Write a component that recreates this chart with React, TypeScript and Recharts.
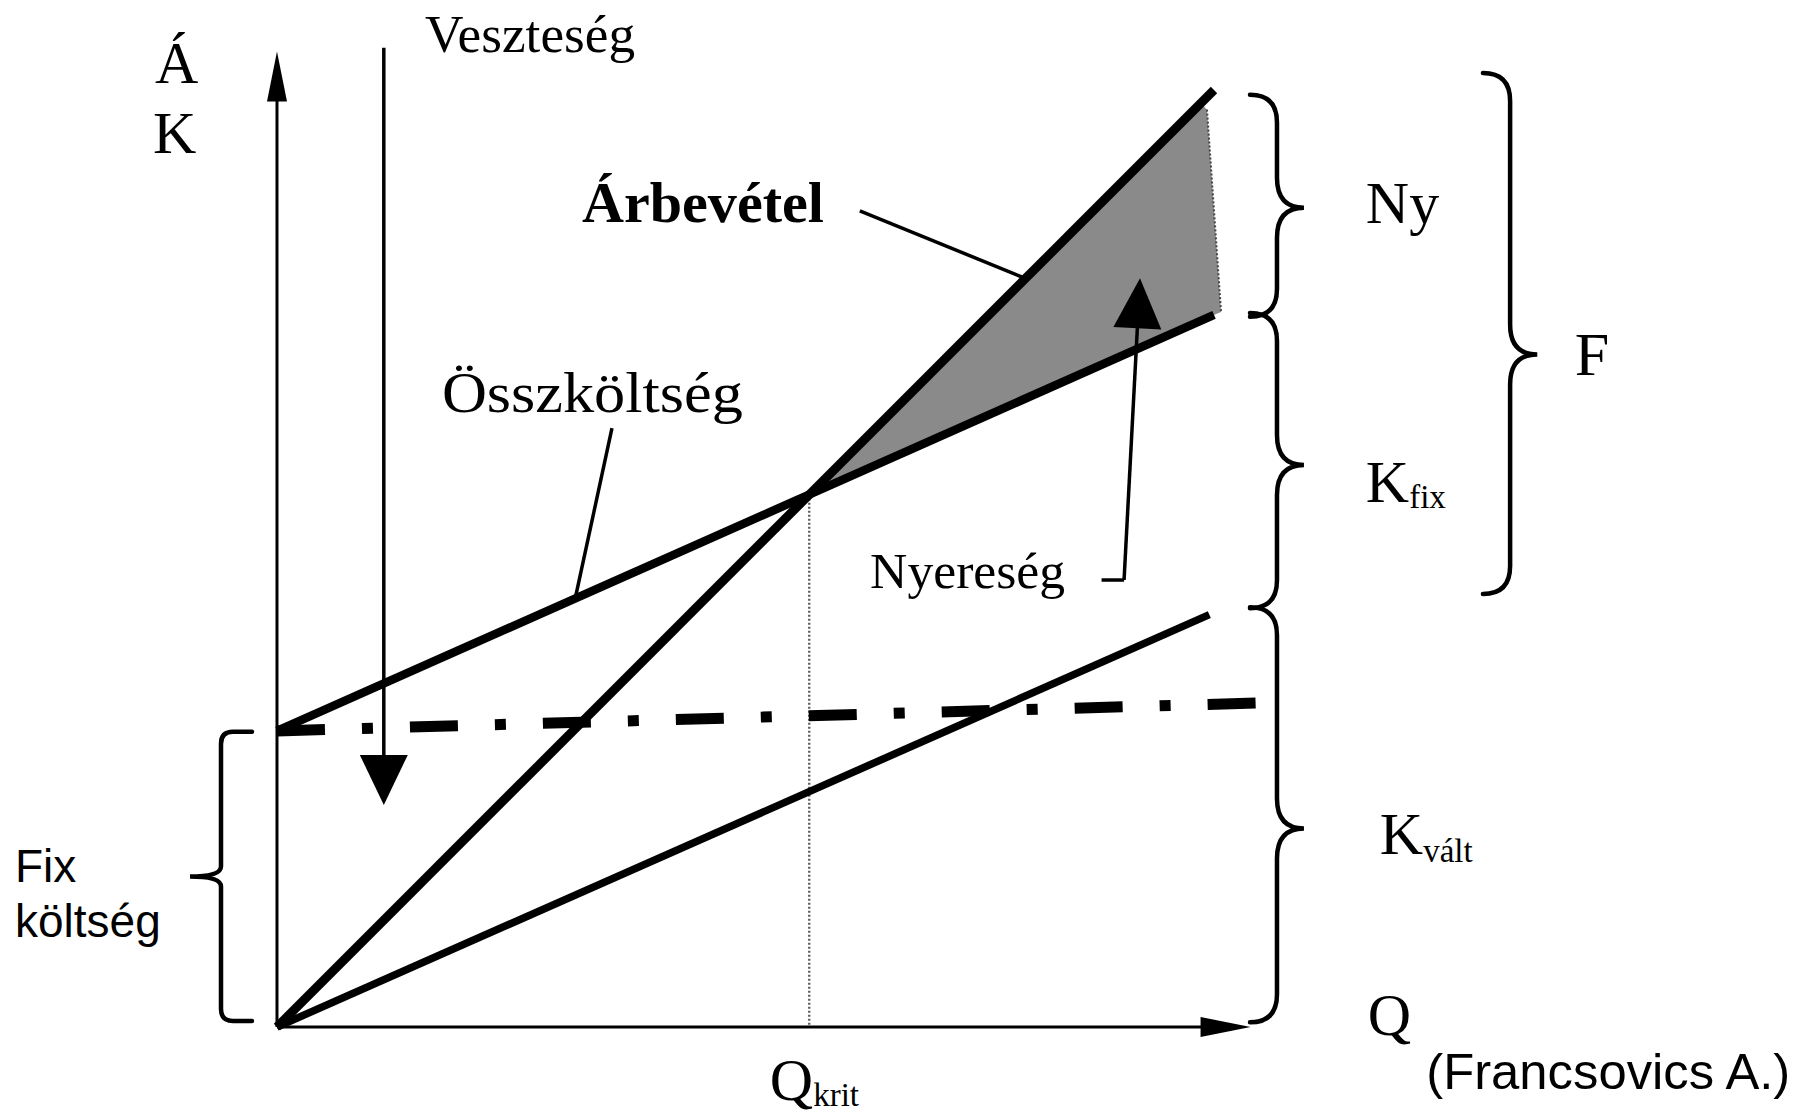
import React from 'react';
import {
  ComposedChart,
  Line,
  Area,
  XAxis,
  YAxis,
  ReferenceLine,
  ReferenceDot,
  ReferenceArea,
} from 'recharts';

// ---------- chart data (units: Q on x, Ft on y) ----------
const REVENUE_Q = [0, 100];
const REVENUE = [0, 100];

const TOTAL_COST_Q = [0, 100];
const TOTAL_COST = [31.6, 76.0];

const FIXED_COST_Q = [0, 105.5];
const FIXED_COST = [31.6, 34.6];

const VARIABLE_COST_Q = [0, 99.5];
const VARIABLE_COST = [0, 44.0];

const PROFIT_Q = [56.8, 98.6, 99.25, 100.75];
const PROFIT_LOW = [56.8, 75.4, 75.7, 76.3];
const PROFIT_HIGH = [56.8, 98.6, 97.9, 76.3];

const BREAK_EVEN_Q = 56.8;
const BREAK_EVEN_VALUE = 56.8;

// axis extents (whole canvas mapped to data space)
const X_DOMAIN: [number, number] = [-29.56, 162.43];
const Y_DOMAIN: [number, number] = [-9.5, 109.6];

// ---------- annotations (data coordinates) ----------
const AXIS_ARROWS = [
  { from: [0, 0], to: [0, 104.1] },
  { from: [0, 0], to: [103.9, 0] },
];
const POINTER_ARROWS = [
  { from: [11.4, 104.5], to: [11.4, 23.7] },
  { from: [90.4, 47.7], to: [92.1, 79.9] },
];
const LEADERS = [
  { from: [62.2, 87.1], to: [79.6, 80.0] },
  { from: [35.75, 63.9], to: [31.8, 45.6] },
  { from: [88.0, 47.7], to: [90.4, 47.7] },
];
const BRACES = [
  { x: [103.84, 109.6], y: [75.8, 99.5], tip: 0.509, dir: 'right', r: 28, rt: 30 },
  { x: [103.84, 109.6], y: [44.7, 76.2], tip: 0.515, dir: 'right', r: 28, rt: 30 },
  { x: [103.84, 109.6], y: [0.5, 44.8], tip: 0.533, dir: 'right', r: 28, rt: 30 },
  { x: [128.7, 134.5], y: [46.2, 101.8], tip: 0.54, dir: 'right', r: 28, rt: 30 },
  { x: [-9.28, -2.67], y: [0.64, 31.5], tip: 0.5, dir: 'left', r: 12, rt: 10 },
];

type Label = {
  t: string;
  sub?: string;
  subDy?: number;
  x: number;
  y: number;
  size: number;
  bold?: boolean;
  sans?: boolean;
  len?: number;
  anchor?: 'start' | 'end';
};

const LABELS: Label[] = [
  { t: 'Á', x: -13.02, y: 100.75, size: 60 },
  { t: 'K', x: -13.23, y: 93.28, size: 60 },
  { t: 'Veszteség', x: 15.8, y: 104.1, size: 52, len: 210 },
  { t: 'Árbevétel', x: 32.55, y: 85.9, size: 56, bold: true, len: 242 },
  { t: 'Összköltség', x: 17.6, y: 65.6, size: 56, len: 301 },
  { t: 'Nyereség', x: 63.3, y: 46.9, size: 50, len: 195 },
  { t: 'Ny', x: 116.2, y: 85.8, size: 60 },
  { t: 'K', sub: 'fix', subDy: 6, x: 116.2, y: 56.0, size: 60 },
  { t: 'K', sub: 'vált', subDy: 8, x: 117.7, y: 18.5, size: 60 },
  { t: 'F', x: 138.5, y: 69.6, size: 62 },
  { t: 'Q', x: 116.4, y: -0.9, size: 60 },
  { t: 'Q', sub: 'krit', subDy: 6, x: 52.6, y: -7.8, size: 60 },
  { t: 'Fix', x: -27.96, y: 15.5, size: 46, sans: true },
  { t: 'költség', x: -27.96, y: 9.6, size: 46, sans: true },
  { t: '(Francsovics A.)', x: 161.5, y: -6.6, size: 50, sans: true, anchor: 'end', len: 364 },
];

const toSeries = (qs: number[], vs: number[]) => qs.map((q, i) => ({ q, v: vs[i] }));

const revenueData = toSeries(REVENUE_Q, REVENUE);
const totalCostData = toSeries(TOTAL_COST_Q, TOTAL_COST);
const fixedCostData = toSeries(FIXED_COST_Q, FIXED_COST);
const variableCostData = toSeries(VARIABLE_COST_Q, VARIABLE_COST);
const profitData = PROFIT_Q.map((q, i) => ({ q, range: [PROFIT_LOW[i], PROFIT_HIGH[i]] }));
const profitEdgeData = [
  { q: PROFIT_Q[2], v: PROFIT_HIGH[2] },
  { q: PROFIT_Q[3], v: PROFIT_HIGH[3] },
];

const SERIF = '"Liberation Serif", "Times New Roman", serif';
const SANS = '"Liberation Sans", Arial, sans-serif';

const ok = (...v: any[]) => v.every((n) => typeof n === 'number' && !isNaN(n));

const ArrowShape = (p: any) => {
  const { x1, y1, x2, y2, head, hw, sw } = p;
  if (!ok(x1, y1, x2, y2)) return <g />;
  const dx = x2 - x1;
  const dy = y2 - y1;
  const len = Math.hypot(dx, dy) || 1;
  const ux = dx / len;
  const uy = dy / len;
  const bx = x2 - ux * head;
  const by = y2 - uy * head;
  const px = -uy;
  const py = ux;
  return (
    <g>
      <line x1={x1} y1={y1} x2={bx + ux * 2} y2={by + uy * 2} stroke="#000" strokeWidth={sw} />
      <polygon
        points={`${x2},${y2} ${bx + (px * hw) / 2},${by + (py * hw) / 2} ${bx - (px * hw) / 2},${by - (py * hw) / 2}`}
        fill="#000"
      />
    </g>
  );
};

const SegmentShape = (p: any) => {
  const { x1, y1, x2, y2, sw } = p;
  if (!ok(x1, y1, x2, y2)) return <g />;
  return <line x1={x1} y1={y1} x2={x2} y2={y2} stroke="#000" strokeWidth={sw} />;
};

const BraceShape = (p: any) => {
  const { x, y, width, height, tip, dir, r, rt } = p;
  if (!ok(x, y, width, height)) return <g />;
  const top = y;
  const bot = y + height;
  const yt = y + height * tip;
  const xs = x + width / 2;
  const right = dir === 'right';
  const xa = right ? x : x + width;
  const xt = right ? x + width : x;
  const s = right ? 1 : -1;
  const rh = Math.min(r, Math.abs(xs - xa));
  const d = [
    `M ${xa} ${top}`,
    `L ${xs - s * rh} ${top}`,
    `Q ${xs} ${top} ${xs} ${top + r}`,
    `L ${xs} ${yt - rt}`,
    `Q ${xs} ${yt} ${xt} ${yt}`,
    `Q ${xs} ${yt} ${xs} ${yt + rt}`,
    `L ${xs} ${bot - r}`,
    `Q ${xs} ${bot} ${xs - s * rh} ${bot}`,
    `L ${xa} ${bot}`,
  ].join(' ');
  return <path d={d} fill="none" stroke="#000" strokeWidth={4.5} strokeLinecap="round" />;
};

const TextShape = (p: any) => {
  const { cx, cy, lab } = p;
  if (!ok(cx, cy)) return <g />;
  const l: Label = lab;
  return (
    <text
      x={cx}
      y={cy}
      fontFamily={l.sans ? SANS : SERIF}
      fontSize={l.size}
      fontWeight={l.bold ? 'bold' : 'normal'}
      fill="#000"
      textAnchor={l.anchor || 'start'}
      {...(l.len ? { textLength: l.len, lengthAdjust: 'spacingAndGlyphs' } : {})}
    >
      {l.t}
      {l.sub ? (
        <tspan fontSize={33} dy={l.subDy || 6}>
          {l.sub}
        </tspan>
      ) : null}
    </text>
  );
};

export default function App() {
  return (
    <div style={{ position: 'absolute', left: 0, top: 0, width: 1799, height: 1116, background: '#fff' }}>
      <ComposedChart width={1799} height={1116} margin={{ top: 0, right: 0, bottom: 0, left: 0 }}>
        <XAxis type="number" dataKey="q" domain={X_DOMAIN} allowDataOverflow hide height={0} />
        <YAxis type="number" domain={Y_DOMAIN} allowDataOverflow hide width={0} />

        <Area
          data={profitData}
          dataKey="range"
          type="linear"
          fill="#8a8a8a"
          fillOpacity={1}
          stroke="none"
          isAnimationActive={false}
          dot={false}
          activeDot={false}
        />
        <Line
          data={profitEdgeData}
          dataKey="v"
          type="linear"
          stroke="#444"
          strokeWidth={2}
          strokeDasharray="2 2"
          dot={false}
          activeDot={false}
          isAnimationActive={false}
        />

        <ReferenceLine
          segment={[
            { x: BREAK_EVEN_Q, y: BREAK_EVEN_VALUE },
            { x: BREAK_EVEN_Q, y: 0 },
          ]}
          stroke="#666"
          strokeWidth={2.5}
          strokeDasharray="2 2"
        />

        <Line
          data={fixedCostData}
          dataKey="v"
          type="linear"
          stroke="#000"
          strokeWidth={11}
          strokeDasharray="48 37 11 37"
          dot={false}
          activeDot={false}
          isAnimationActive={false}
        />
        <Line
          data={variableCostData}
          dataKey="v"
          type="linear"
          stroke="#000"
          strokeWidth={7.5}
          dot={false}
          activeDot={false}
          isAnimationActive={false}
        />
        <Line
          data={totalCostData}
          dataKey="v"
          type="linear"
          stroke="#000"
          strokeWidth={8.5}
          dot={false}
          activeDot={false}
          isAnimationActive={false}
        />
        <Line
          data={revenueData}
          dataKey="v"
          type="linear"
          stroke="#000"
          strokeWidth={9}
          dot={false}
          activeDot={false}
          isAnimationActive={false}
        />

        {AXIS_ARROWS.map((a, i) => (
          <ReferenceLine
            key={`ax${i}`}
            segment={[
              { x: a.from[0], y: a.from[1] },
              { x: a.to[0], y: a.to[1] },
            ]}
            shape={(p: any) => <ArrowShape {...p} head={50} hw={20} sw={3} />}
          />
        ))}
        {POINTER_ARROWS.map((a, i) => (
          <ReferenceLine
            key={`pa${i}`}
            segment={[
              { x: a.from[0], y: a.from[1] },
              { x: a.to[0], y: a.to[1] },
            ]}
            shape={(p: any) => <ArrowShape {...p} head={50} hw={48} sw={3.5} />}
          />
        ))}
        {LEADERS.map((a, i) => (
          <ReferenceLine
            key={`ld${i}`}
            segment={[
              { x: a.from[0], y: a.from[1] },
              { x: a.to[0], y: a.to[1] },
            ]}
            shape={(p: any) => <SegmentShape {...p} sw={3.5} />}
          />
        ))}
        {BRACES.map((b, i) => (
          <ReferenceArea
            key={`br${i}`}
            x1={b.x[0]}
            x2={b.x[1]}
            y1={b.y[0]}
            y2={b.y[1]}
            shape={(p: any) => <BraceShape {...p} tip={b.tip} dir={b.dir} r={b.r} rt={b.rt} />}
          />
        ))}
        {LABELS.map((l, i) => (
          <ReferenceDot
            key={`lb${i}`}
            x={l.x}
            y={l.y}
            r={0}
            shape={(p: any) => <TextShape {...p} lab={l} />}
          />
        ))}
      </ComposedChart>
    </div>
  );
}
